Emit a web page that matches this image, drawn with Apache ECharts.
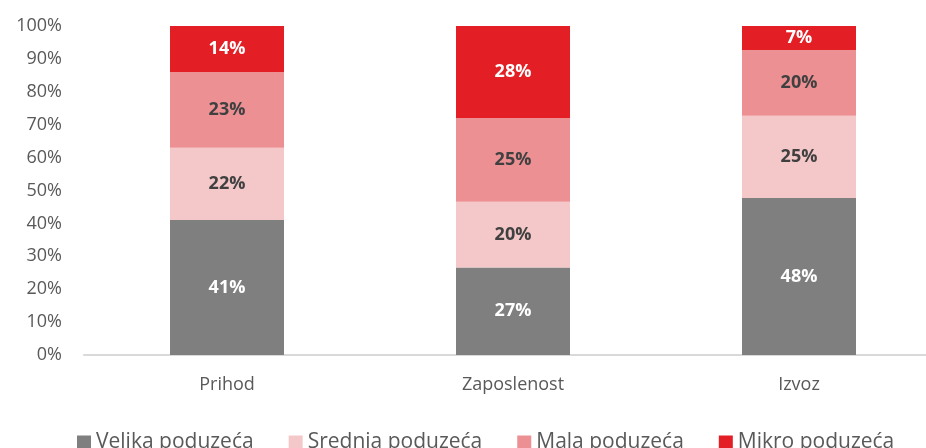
<!DOCTYPE html>
<html>
<head>
<meta charset="utf-8">
<script src="https://cdn.jsdelivr.net/npm/echarts@6/dist/echarts.min.js"></script>
<style>
  html, body { margin: 0; padding: 0; background: #fff; }
  #chart { width: 926px; height: 448px; }
</style>
</head>
<body>
<div id="chart"></div>
<script>
var categories = ['Prihod', 'Zaposlenost', 'Izvoz'];
var seriesNames = ['Velika poduzeća', 'Srednja poduzeća', 'Mala poduzeća', 'Mikro poduzeća'];
var velika = [41, 26.6, 47.7];
var srednja = [22, 20, 25];
var mala = [23, 25.4, 20];
var mikro = [14, 28, 7.3];
var yTicks = [0, 10, 20, 30, 40, 50, 60, 70, 80, 90, 100];

var colors = ['#7f7f7f', '#f4c7c8', '#ec9093', '#e31e24'];
var labelColors = ['#ffffff', '#404040', '#404040', '#ffffff'];
var font = 'Open Sans, Liberation Sans, sans-serif';

function makeSeries(name, data, i) {
  return {
    name: name,
    type: 'bar',
    stack: 'total',
    barWidth: 114,
    data: data,
    itemStyle: { color: colors[i] },
    label: {
      show: true,
      position: 'inside',
      color: labelColors[i],
      fontFamily: font,
      fontWeight: 'bold',
      fontSize: 18,
      formatter: function (p) { return Math.round(p.value) + '%'; }
    }
  };
}

var chart = echarts.init(document.getElementById('chart'));
chart.setOption({
  animation: false,
  grid: { left: 84, top: 26, width: 858, height: 329, outerBoundsMode: 'none' },
  legend: {
    top: 427,
    left: 72,
    itemWidth: 14,
    itemHeight: 14,
    itemGap: 35,
    icon: 'rect',
    data: seriesNames,
    textStyle: { color: '#595959', fontSize: 21, fontFamily: font }
  },
  xAxis: {
    type: 'category',
    data: categories,
    axisLine: { lineStyle: { color: '#d9d9d9', width: 2 } },
    axisTick: { show: false },
    axisLabel: { color: '#595959', fontSize: 18, fontFamily: font, margin: 21 }
  },
  yAxis: {
    type: 'value',
    min: yTicks[0],
    max: yTicks[yTicks.length - 1],
    interval: 10,
    splitLine: { show: false },
    axisLine: { show: false },
    axisTick: { show: false },
    axisLabel: { color: '#595959', fontSize: 18, fontFamily: font, margin: 22, formatter: '{value}%' }
  },
  series: [
    makeSeries(seriesNames[0], velika, 0),
    makeSeries(seriesNames[1], srednja, 1),
    makeSeries(seriesNames[2], mala, 2),
    makeSeries(seriesNames[3], mikro, 3)
  ]
});
</script>
</body>
</html>
